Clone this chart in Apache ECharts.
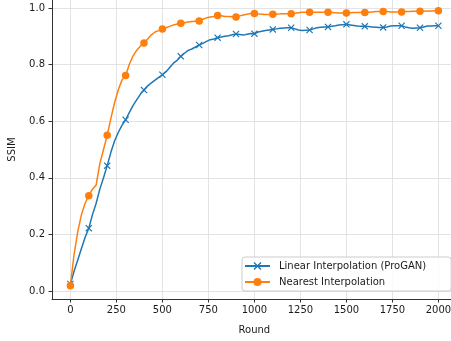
<!DOCTYPE html>
<html>
<head>
<meta charset="utf-8">
<script src="https://cdn.jsdelivr.net/npm/echarts@6/dist/echarts.min.js"></script>
<style>html,body{margin:0;padding:0;background:#fff}#c{width:451px;height:341px}</style>
</head>
<body>
<div id="c"></div>
<script>
// Rounds sampled every 20
const rounds = Array.from({length: 101}, (_, i) => i * 20);
const xTicks = [0, 250, 500, 750, 1000, 1250, 1500, 1750, 2000];
const yTicks = [0, 0.2, 0.4, 0.6, 0.8, 1.0];
const seriesNames = ['Linear Interpolation (ProGAN)', 'Nearest Interpolation'];

const linearSSIM = [
  0.025, 0.07, 0.11, 0.15, 0.19, 0.222, 0.27, 0.31, 0.36, 0.40,
  0.443, 0.49, 0.53, 0.56, 0.585, 0.605, 0.63, 0.655, 0.675, 0.695,
  0.71, 0.725, 0.735, 0.745, 0.755, 0.764, 0.775, 0.79, 0.805, 0.815,
  0.829, 0.84, 0.85, 0.855, 0.862, 0.869, 0.875, 0.882, 0.888, 0.89,
  0.895, 0.897, 0.90, 0.902, 0.905, 0.908, 0.906, 0.904, 0.907, 0.91,
  0.909, 0.915, 0.918, 0.92, 0.922, 0.924, 0.926, 0.928, 0.929, 0.93,
  0.93, 0.926, 0.922, 0.92, 0.921, 0.922, 0.926, 0.93, 0.932, 0.933,
  0.933, 0.935, 0.937, 0.94, 0.941, 0.942, 0.94, 0.938, 0.936, 0.935,
  0.935, 0.934, 0.933, 0.932, 0.931, 0.931, 0.933, 0.936, 0.937, 0.937,
  0.937, 0.933, 0.93, 0.928, 0.929, 0.93, 0.933, 0.936, 0.936, 0.937,
  0.937
];
const nearestSSIM = [
  0.019, 0.13, 0.21, 0.27, 0.31, 0.337, 0.36, 0.375, 0.45, 0.50,
  0.55, 0.61, 0.665, 0.71, 0.745, 0.761, 0.80, 0.83, 0.85, 0.865,
  0.876, 0.89, 0.905, 0.915, 0.92, 0.926, 0.93, 0.935, 0.94, 0.943,
  0.946, 0.948, 0.95, 0.952, 0.953, 0.954, 0.96, 0.965, 0.968, 0.97,
  0.973, 0.972, 0.97, 0.97, 0.969, 0.968, 0.972, 0.975, 0.978, 0.98,
  0.98, 0.979, 0.978, 0.977, 0.977, 0.978, 0.978, 0.979, 0.979, 0.979,
  0.979, 0.981, 0.983, 0.985, 0.985, 0.985, 0.985, 0.985, 0.985, 0.985,
  0.985, 0.984, 0.983, 0.982, 0.982, 0.982, 0.983, 0.984, 0.984, 0.984,
  0.984, 0.985, 0.986, 0.987, 0.987, 0.987, 0.987, 0.986, 0.986, 0.986,
  0.986, 0.987, 0.987, 0.988, 0.988, 0.988, 0.988, 0.989, 0.989, 0.99,
  0.99
];

const XMARK = 'path://M0,1.2L1.2,0L5,3.8L8.8,0L10,1.2L6.2,5L10,8.8L8.8,10L5,6.2L1.2,10L0,8.8L3.8,5Z';

function build(vals) {
  return rounds.map((r, i) => r % 100 === 0
    ? {value: [r, vals[i]]}
    : {value: [r, vals[i]], symbol: 'none'});
}

const font = 'DejaVu Sans';
const txt = '#1a1a1a';
const chart = echarts.init(document.getElementById('c'), null, {renderer: 'canvas'});
chart.setOption({
  animation: false,
  backgroundColor: '#fff',
  grid: {left: 52, width: 404.8, top: 0, bottom: 42, containLabel: false, outerBoundsMode: 'none'},
  legend: {
    orient: 'vertical', left: 242, top: 257,
    padding: [4, 25, 4, 2], itemWidth: 25, itemHeight: 10, itemGap: 6,
    backgroundColor: 'rgba(255,255,255,0.8)', borderColor: '#ccc', borderWidth: 1, borderRadius: 3,
    textStyle: {fontFamily: font, fontSize: 10, color: txt, padding: [0, 0, 0, 4]},
    data: seriesNames
  },
  xAxis: {
    type: 'value', min: -100, max: 2100,
    name: 'Round', nameLocation: 'middle', nameGap: 26,
    nameTextStyle: {fontFamily: font, fontSize: 10, color: txt},
    axisLine: {onZero: false, lineStyle: {color: '#333', width: 1}},
    axisTick: {length: 3.5, lineStyle: {color: '#333'}, customValues: xTicks},
    axisLabel: {fontFamily: font, fontSize: 10, color: txt, margin: 6, customValues: xTicks,
      formatter: v => String(v)},
    splitLine: {show: true, lineStyle: {color: '#dcdcdc', width: 0.8}}
  },
  yAxis: {
    type: 'value', min: -0.028, max: 1.028,
    name: 'SSIM', nameLocation: 'middle', nameGap: 35,
    nameTextStyle: {fontFamily: font, fontSize: 10, color: txt},
    axisLine: {show: true, onZero: false, lineStyle: {color: '#333', width: 1}},
    axisTick: {show: true, length: 3.5, lineStyle: {color: '#333'}, customValues: yTicks},
    axisLabel: {fontFamily: font, fontSize: 10, color: txt, margin: 7, customValues: yTicks,
      formatter: v => v.toFixed(1)},
    splitLine: {show: true, lineStyle: {color: '#dcdcdc', width: 0.8}}
  },
  series: [
    {
      name: seriesNames[0], type: 'line', data: build(linearSSIM),
      symbol: XMARK, symbolSize: 7, showAllSymbol: true,
      lineStyle: {color: '#1f77b4', width: 1.5},
      itemStyle: {color: '#1f77b4'}, emphasis: {disabled: true}
    },
    {
      name: seriesNames[1], type: 'line', data: build(nearestSSIM),
      symbol: 'circle', symbolSize: 7.5, showAllSymbol: true,
      lineStyle: {color: '#ff7f0e', width: 1.5},
      itemStyle: {color: '#ff7f0e'}, emphasis: {disabled: true}
    }
  ]
});
</script>
</body>
</html>
